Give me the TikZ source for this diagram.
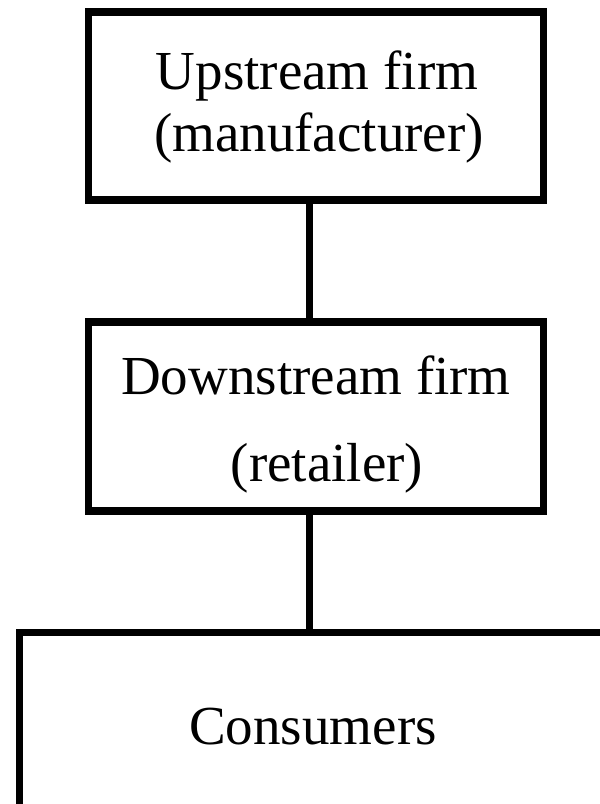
\documentclass[tikz,border=0pt]{standalone}
\usepackage{fontspec}
\setmainfont{Liberation Serif}
\begin{document}
\begin{tikzpicture}[x=1pt,y=-1pt,
  boxstyle/.style={draw=black,line width=7.5pt,rectangle,inner sep=0pt,fill=white},
  conn/.style={draw=black,line width=7pt},
  lbl/.style={anchor=base,inner sep=0pt,font=\fontsize{55}{62}\selectfont}]
\useasboundingbox (0,0) rectangle (600,804);
\clip (0,0) rectangle (600,804);
\node[boxstyle,minimum width=455pt,minimum height=188pt] (up) at (316,106) {};
\node[boxstyle,minimum width=455pt,minimum height=189pt] (down) at (316,416.5) {};
\node[boxstyle,minimum width=630.5pt,minimum height=177.5pt] (cons) at (334.75,721.25) {};
\coordinate (upb) at (309.5,200);
\coordinate (downt) at (309.5,322);
\coordinate (downb) at (309.5,511);
\coordinate (const) at (309.5,632.5);
\draw[conn] (upb) -- (downt);
\draw[conn] (downb) -- (const);
\node[lbl] (t1) at (317,89) {Upstream firm};
\node[lbl] (t2) at (319,151) {(manufacturer)};
\node[lbl] (t3) at (316,394) {Downstream firm};
\node[lbl] (t4) at (327,481) {(retailer)};
\node[lbl] (t5) at (313,744) {Consumers};
\end{tikzpicture}
\end{document}
